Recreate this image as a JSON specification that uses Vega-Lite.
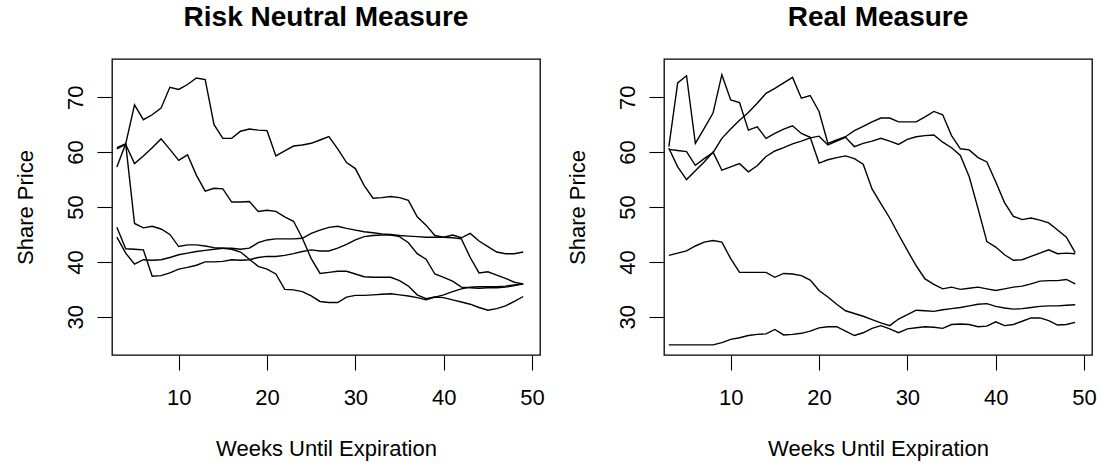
{
  "$schema": "https://vega.github.io/schema/vega-lite/v6.json",
  "autosize": "none",
  "padding": {"left": 112, "top": 59, "right": 989, "bottom": 408},
  "background": "white",
  "bounds": "flush",
  "spacing": 124,
  "config": {
    "font": "Liberation Sans",
    "view": {"stroke": "black", "strokeWidth": 1.3},
    "axis": {
      "domain": false, "grid": false, "ticks": true,
      "tickColor": "black", "tickSize": 15, "tickWidth": 1.1,
      "labelFont": "Liberation Sans", "labelFontSize": 22, "labelColor": "black",
      "labelFlush": false, "labelOverlap": false,
      "titleFont": "Liberation Sans", "titleFontSize": 22, "titleFontWeight": "normal", "titleColor": "black"
    },
    "axisX": {"labelPadding": 17, "titlePadding": 47, "titleBaseline": "alphabetic"},
    "axisY": {"labelAngle": 270, "labelAlign": "center", "labelBaseline": "alphabetic", "labelPadding": 15, "titlePadding": 32, "titleBaseline": "alphabetic"},
    "title": {"font": "Liberation Sans", "fontSize": 28, "fontWeight": "bold", "color": "black", "baseline": "alphabetic", "offset": 27, "anchor": "middle"}
  },
  "datasets": {
    "risk": [
      {"run":"A","week":3,"price":57.3},{"run":"A","week":4,"price":61.5},{"run":"A","week":5,"price":68.6},{"run":"A","week":6,"price":65.9},{"run":"A","week":7,"price":66.8},{"run":"A","week":8,"price":68.0},{"run":"A","week":9,"price":71.8},{"run":"A","week":10,"price":71.4},{"run":"A","week":11,"price":72.3},{"run":"A","week":12,"price":73.5},{"run":"A","week":13,"price":73.2},{"run":"A","week":14,"price":65.0},{"run":"A","week":15,"price":62.5},{"run":"A","week":16,"price":62.5},{"run":"A","week":17,"price":63.8},{"run":"A","week":18,"price":64.2},{"run":"A","week":19,"price":64.0},{"run":"A","week":20,"price":63.9},{"run":"A","week":21,"price":59.3},{"run":"A","week":22,"price":60.2},{"run":"A","week":23,"price":61.1},{"run":"A","week":24,"price":61.3},{"run":"A","week":25,"price":61.6},{"run":"A","week":26,"price":62.2},{"run":"A","week":27,"price":62.8},{"run":"A","week":28,"price":60.6},{"run":"A","week":29,"price":58.1},{"run":"A","week":30,"price":57.0},{"run":"A","week":31,"price":53.9},{"run":"A","week":32,"price":51.6},{"run":"A","week":33,"price":51.7},{"run":"A","week":34,"price":51.9},{"run":"A","week":35,"price":51.7},{"run":"A","week":36,"price":51.2},{"run":"A","week":37,"price":48.2},{"run":"A","week":38,"price":46.7},{"run":"A","week":39,"price":44.8},{"run":"A","week":40,"price":44.5},{"run":"A","week":41,"price":44.9},{"run":"A","week":42,"price":44.4},{"run":"A","week":43,"price":45.2},{"run":"A","week":44,"price":43.8},{"run":"A","week":45,"price":42.8},{"run":"A","week":46,"price":41.8},{"run":"A","week":47,"price":41.5},{"run":"A","week":48,"price":41.5},{"run":"A","week":49,"price":41.8},
      {"run":"B","week":3,"price":60.6},{"run":"B","week":4,"price":61.4},{"run":"B","week":5,"price":57.9},{"run":"B","week":6,"price":59.3},{"run":"B","week":7,"price":60.8},{"run":"B","week":8,"price":62.4},{"run":"B","week":9,"price":60.5},{"run":"B","week":10,"price":58.5},{"run":"B","week":11,"price":59.5},{"run":"B","week":12,"price":55.8},{"run":"B","week":13,"price":52.9},{"run":"B","week":14,"price":53.4},{"run":"B","week":15,"price":53.3},{"run":"B","week":16,"price":50.9},{"run":"B","week":17,"price":50.9},{"run":"B","week":18,"price":51.0},{"run":"B","week":19,"price":49.2},{"run":"B","week":20,"price":49.4},{"run":"B","week":21,"price":49.2},{"run":"B","week":22,"price":48.2},{"run":"B","week":23,"price":47.4},{"run":"B","week":24,"price":44.3},{"run":"B","week":25,"price":40.6},{"run":"B","week":26,"price":37.9},{"run":"B","week":27,"price":38.1},{"run":"B","week":28,"price":38.3},{"run":"B","week":29,"price":38.3},{"run":"B","week":30,"price":37.8},{"run":"B","week":31,"price":37.3},{"run":"B","week":32,"price":37.2},{"run":"B","week":33,"price":37.2},{"run":"B","week":34,"price":37.2},{"run":"B","week":35,"price":36.6},{"run":"B","week":36,"price":35.6},{"run":"B","week":37,"price":34.0},{"run":"B","week":38,"price":33.3},{"run":"B","week":39,"price":33.6},{"run":"B","week":40,"price":34.0},{"run":"B","week":41,"price":34.6},{"run":"B","week":42,"price":35.1},{"run":"B","week":43,"price":35.4},{"run":"B","week":44,"price":35.5},{"run":"B","week":45,"price":35.5},{"run":"B","week":46,"price":35.5},{"run":"B","week":47,"price":35.6},{"run":"B","week":48,"price":35.8},{"run":"B","week":49,"price":36.0},
      {"run":"C","week":3,"price":60.8},{"run":"C","week":4,"price":61.5},{"run":"C","week":5,"price":47.0},{"run":"C","week":6,"price":46.2},{"run":"C","week":7,"price":46.5},{"run":"C","week":8,"price":46.0},{"run":"C","week":9,"price":45.0},{"run":"C","week":10,"price":42.8},{"run":"C","week":11,"price":43.1},{"run":"C","week":12,"price":43.1},{"run":"C","week":13,"price":42.9},{"run":"C","week":14,"price":42.6},{"run":"C","week":15,"price":42.5},{"run":"C","week":16,"price":42.3},{"run":"C","week":17,"price":41.8},{"run":"C","week":18,"price":40.5},{"run":"C","week":19,"price":39.2},{"run":"C","week":20,"price":38.7},{"run":"C","week":21,"price":37.8},{"run":"C","week":22,"price":35.0},{"run":"C","week":23,"price":34.9},{"run":"C","week":24,"price":34.6},{"run":"C","week":25,"price":33.8},{"run":"C","week":26,"price":32.8},{"run":"C","week":27,"price":32.6},{"run":"C","week":28,"price":32.6},{"run":"C","week":29,"price":33.6},{"run":"C","week":30,"price":33.9},{"run":"C","week":31,"price":33.9},{"run":"C","week":32,"price":34.0},{"run":"C","week":33,"price":34.1},{"run":"C","week":34,"price":34.2},{"run":"C","week":35,"price":34.0},{"run":"C","week":36,"price":33.8},{"run":"C","week":37,"price":33.5},{"run":"C","week":38,"price":33.1},{"run":"C","week":39,"price":33.6},{"run":"C","week":40,"price":33.5},{"run":"C","week":41,"price":33.1},{"run":"C","week":42,"price":32.7},{"run":"C","week":43,"price":32.3},{"run":"C","week":44,"price":31.7},{"run":"C","week":45,"price":31.2},{"run":"C","week":46,"price":31.5},{"run":"C","week":47,"price":32.0},{"run":"C","week":48,"price":32.8},{"run":"C","week":49,"price":33.7},
      {"run":"D","week":3,"price":44.5},{"run":"D","week":4,"price":41.6},{"run":"D","week":5,"price":39.6},{"run":"D","week":6,"price":40.4},{"run":"D","week":7,"price":40.3},{"run":"D","week":8,"price":40.4},{"run":"D","week":9,"price":40.8},{"run":"D","week":10,"price":41.3},{"run":"D","week":11,"price":41.6},{"run":"D","week":12,"price":41.9},{"run":"D","week":13,"price":42.1},{"run":"D","week":14,"price":42.3},{"run":"D","week":15,"price":42.5},{"run":"D","week":16,"price":42.5},{"run":"D","week":17,"price":42.3},{"run":"D","week":18,"price":42.5},{"run":"D","week":19,"price":43.5},{"run":"D","week":20,"price":44.0},{"run":"D","week":21,"price":44.2},{"run":"D","week":22,"price":44.2},{"run":"D","week":23,"price":44.2},{"run":"D","week":24,"price":44.3},{"run":"D","week":25,"price":45.2},{"run":"D","week":26,"price":45.8},{"run":"D","week":27,"price":46.3},{"run":"D","week":28,"price":46.5},{"run":"D","week":29,"price":46.1},{"run":"D","week":30,"price":45.8},{"run":"D","week":31,"price":45.5},{"run":"D","week":32,"price":45.3},{"run":"D","week":33,"price":45.1},{"run":"D","week":34,"price":45.0},{"run":"D","week":35,"price":44.8},{"run":"D","week":36,"price":44.7},{"run":"D","week":37,"price":44.6},{"run":"D","week":38,"price":44.5},{"run":"D","week":39,"price":44.5},{"run":"D","week":40,"price":44.5},{"run":"D","week":41,"price":44.4},{"run":"D","week":42,"price":44.2},{"run":"D","week":43,"price":40.8},{"run":"D","week":44,"price":38.0},{"run":"D","week":45,"price":38.2},{"run":"D","week":46,"price":37.6},{"run":"D","week":47,"price":37.0},{"run":"D","week":48,"price":36.3},{"run":"D","week":49,"price":36.0},
      {"run":"E","week":3,"price":46.3},{"run":"E","week":4,"price":42.4},{"run":"E","week":5,"price":42.3},{"run":"E","week":6,"price":42.2},{"run":"E","week":7,"price":37.4},{"run":"E","week":8,"price":37.5},{"run":"E","week":9,"price":38.0},{"run":"E","week":10,"price":38.7},{"run":"E","week":11,"price":39.0},{"run":"E","week":12,"price":39.4},{"run":"E","week":13,"price":40.0},{"run":"E","week":14,"price":40.0},{"run":"E","week":15,"price":40.1},{"run":"E","week":16,"price":40.4},{"run":"E","week":17,"price":40.3},{"run":"E","week":18,"price":40.4},{"run":"E","week":19,"price":40.8},{"run":"E","week":20,"price":41.0},{"run":"E","week":21,"price":41.0},{"run":"E","week":22,"price":41.2},{"run":"E","week":23,"price":41.5},{"run":"E","week":24,"price":41.9},{"run":"E","week":25,"price":42.2},{"run":"E","week":26,"price":42.0},{"run":"E","week":27,"price":42.0},{"run":"E","week":28,"price":42.5},{"run":"E","week":29,"price":43.2},{"run":"E","week":30,"price":44.0},{"run":"E","week":31,"price":44.6},{"run":"E","week":32,"price":44.8},{"run":"E","week":33,"price":44.9},{"run":"E","week":34,"price":44.9},{"run":"E","week":35,"price":44.6},{"run":"E","week":36,"price":43.5},{"run":"E","week":37,"price":41.5},{"run":"E","week":38,"price":40.5},{"run":"E","week":39,"price":37.8},{"run":"E","week":40,"price":37.2},{"run":"E","week":41,"price":36.5},{"run":"E","week":42,"price":35.4},{"run":"E","week":43,"price":35.3},{"run":"E","week":44,"price":35.2},{"run":"E","week":45,"price":35.3},{"run":"E","week":46,"price":35.3},{"run":"E","week":47,"price":35.4},{"run":"E","week":48,"price":35.7},{"run":"E","week":49,"price":36.0}
    ],
    "real": [
      {"run":"A","week":3,"price":61.0},{"run":"A","week":4,"price":72.6},{"run":"A","week":5,"price":73.9},{"run":"A","week":6,"price":61.6},{"run":"A","week":7,"price":64.3},{"run":"A","week":8,"price":67.1},{"run":"A","week":9,"price":74.1},{"run":"A","week":10,"price":69.5},{"run":"A","week":11,"price":69.0},{"run":"A","week":12,"price":64.0},{"run":"A","week":13,"price":64.6},{"run":"A","week":14,"price":62.5},{"run":"A","week":15,"price":63.4},{"run":"A","week":16,"price":64.2},{"run":"A","week":17,"price":64.8},{"run":"A","week":18,"price":63.4},{"run":"A","week":19,"price":62.7},{"run":"A","week":20,"price":58.0},{"run":"A","week":21,"price":58.6},{"run":"A","week":22,"price":59.0},{"run":"A","week":23,"price":59.3},{"run":"A","week":24,"price":58.8},{"run":"A","week":25,"price":57.8},{"run":"A","week":26,"price":53.3},{"run":"A","week":27,"price":50.6},{"run":"A","week":28,"price":48.0},{"run":"A","week":29,"price":45.0},{"run":"A","week":30,"price":42.1},{"run":"A","week":31,"price":39.3},{"run":"A","week":32,"price":36.9},{"run":"A","week":33,"price":35.9},{"run":"A","week":34,"price":35.1},{"run":"A","week":35,"price":35.4},{"run":"A","week":36,"price":35.0},{"run":"A","week":37,"price":35.2},{"run":"A","week":38,"price":35.4},{"run":"A","week":39,"price":35.1},{"run":"A","week":40,"price":34.8},{"run":"A","week":41,"price":35.1},{"run":"A","week":42,"price":35.4},{"run":"A","week":43,"price":35.6},{"run":"A","week":44,"price":36.0},{"run":"A","week":45,"price":36.5},{"run":"A","week":46,"price":36.6},{"run":"A","week":47,"price":36.6},{"run":"A","week":48,"price":36.8},{"run":"A","week":49,"price":36.0},
      {"run":"B","week":3,"price":60.7},{"run":"B","week":4,"price":57.3},{"run":"B","week":5,"price":55.0},{"run":"B","week":6,"price":56.6},{"run":"B","week":7,"price":58.2},{"run":"B","week":8,"price":60.0},{"run":"B","week":9,"price":56.7},{"run":"B","week":10,"price":57.3},{"run":"B","week":11,"price":57.9},{"run":"B","week":12,"price":56.4},{"run":"B","week":13,"price":57.5},{"run":"B","week":14,"price":59.2},{"run":"B","week":15,"price":60.2},{"run":"B","week":16,"price":60.8},{"run":"B","week":17,"price":61.5},{"run":"B","week":18,"price":62.0},{"run":"B","week":19,"price":62.6},{"run":"B","week":20,"price":62.9},{"run":"B","week":21,"price":61.3},{"run":"B","week":22,"price":62.0},{"run":"B","week":23,"price":62.7},{"run":"B","week":24,"price":61.0},{"run":"B","week":25,"price":61.6},{"run":"B","week":26,"price":62.0},{"run":"B","week":27,"price":62.5},{"run":"B","week":28,"price":62.0},{"run":"B","week":29,"price":61.4},{"run":"B","week":30,"price":62.3},{"run":"B","week":31,"price":62.8},{"run":"B","week":32,"price":63.0},{"run":"B","week":33,"price":63.1},{"run":"B","week":34,"price":61.8},{"run":"B","week":35,"price":60.8},{"run":"B","week":36,"price":59.4},{"run":"B","week":37,"price":55.5},{"run":"B","week":38,"price":49.7},{"run":"B","week":39,"price":43.7},{"run":"B","week":40,"price":42.7},{"run":"B","week":41,"price":41.3},{"run":"B","week":42,"price":40.3},{"run":"B","week":43,"price":40.4},{"run":"B","week":44,"price":41.0},{"run":"B","week":45,"price":41.6},{"run":"B","week":46,"price":42.2},{"run":"B","week":47,"price":41.5},{"run":"B","week":48,"price":41.6},{"run":"B","week":49,"price":41.5},
      {"run":"C","week":3,"price":60.5},{"run":"C","week":4,"price":60.3},{"run":"C","week":5,"price":60.1},{"run":"C","week":6,"price":57.6},{"run":"C","week":7,"price":58.8},{"run":"C","week":8,"price":59.9},{"run":"C","week":9,"price":62.5},{"run":"C","week":10,"price":64.2},{"run":"C","week":11,"price":65.8},{"run":"C","week":12,"price":67.2},{"run":"C","week":13,"price":68.9},{"run":"C","week":14,"price":70.7},{"run":"C","week":15,"price":71.6},{"run":"C","week":16,"price":72.6},{"run":"C","week":17,"price":73.6},{"run":"C","week":18,"price":69.8},{"run":"C","week":19,"price":70.3},{"run":"C","week":20,"price":67.4},{"run":"C","week":21,"price":61.6},{"run":"C","week":22,"price":62.2},{"run":"C","week":23,"price":62.8},{"run":"C","week":24,"price":63.9},{"run":"C","week":25,"price":64.7},{"run":"C","week":26,"price":65.5},{"run":"C","week":27,"price":66.2},{"run":"C","week":28,"price":66.2},{"run":"C","week":29,"price":65.5},{"run":"C","week":30,"price":65.5},{"run":"C","week":31,"price":65.5},{"run":"C","week":32,"price":66.4},{"run":"C","week":33,"price":67.4},{"run":"C","week":34,"price":66.8},{"run":"C","week":35,"price":63.0},{"run":"C","week":36,"price":60.6},{"run":"C","week":37,"price":60.4},{"run":"C","week":38,"price":59.0},{"run":"C","week":39,"price":58.2},{"run":"C","week":40,"price":54.6},{"run":"C","week":41,"price":50.8},{"run":"C","week":42,"price":48.3},{"run":"C","week":43,"price":47.7},{"run":"C","week":44,"price":48.0},{"run":"C","week":45,"price":47.6},{"run":"C","week":46,"price":47.1},{"run":"C","week":47,"price":45.8},{"run":"C","week":48,"price":44.5},{"run":"C","week":49,"price":41.7},
      {"run":"D","week":3,"price":41.2},{"run":"D","week":4,"price":41.6},{"run":"D","week":5,"price":42.0},{"run":"D","week":6,"price":42.9},{"run":"D","week":7,"price":43.6},{"run":"D","week":8,"price":43.9},{"run":"D","week":9,"price":43.6},{"run":"D","week":10,"price":40.6},{"run":"D","week":11,"price":38.1},{"run":"D","week":12,"price":38.1},{"run":"D","week":13,"price":38.1},{"run":"D","week":14,"price":38.1},{"run":"D","week":15,"price":37.2},{"run":"D","week":16,"price":37.9},{"run":"D","week":17,"price":37.8},{"run":"D","week":18,"price":37.5},{"run":"D","week":19,"price":36.7},{"run":"D","week":20,"price":34.8},{"run":"D","week":21,"price":33.6},{"run":"D","week":22,"price":32.3},{"run":"D","week":23,"price":31.1},{"run":"D","week":24,"price":30.6},{"run":"D","week":25,"price":30.1},{"run":"D","week":26,"price":29.5},{"run":"D","week":27,"price":28.9},{"run":"D","week":28,"price":28.4},{"run":"D","week":29,"price":29.6},{"run":"D","week":30,"price":30.4},{"run":"D","week":31,"price":31.2},{"run":"D","week":32,"price":31.1},{"run":"D","week":33,"price":31.0},{"run":"D","week":34,"price":31.3},{"run":"D","week":35,"price":31.5},{"run":"D","week":36,"price":31.7},{"run":"D","week":37,"price":32.0},{"run":"D","week":38,"price":32.3},{"run":"D","week":39,"price":32.4},{"run":"D","week":40,"price":31.9},{"run":"D","week":41,"price":31.6},{"run":"D","week":42,"price":31.4},{"run":"D","week":43,"price":31.5},{"run":"D","week":44,"price":31.7},{"run":"D","week":45,"price":31.9},{"run":"D","week":46,"price":32.0},{"run":"D","week":47,"price":32.0},{"run":"D","week":48,"price":32.1},{"run":"D","week":49,"price":32.2},
      {"run":"E","week":3,"price":24.9},{"run":"E","week":4,"price":24.9},{"run":"E","week":5,"price":24.9},{"run":"E","week":6,"price":24.9},{"run":"E","week":7,"price":24.9},{"run":"E","week":8,"price":24.9},{"run":"E","week":9,"price":25.3},{"run":"E","week":10,"price":25.9},{"run":"E","week":11,"price":26.2},{"run":"E","week":12,"price":26.6},{"run":"E","week":13,"price":26.8},{"run":"E","week":14,"price":26.9},{"run":"E","week":15,"price":27.7},{"run":"E","week":16,"price":26.7},{"run":"E","week":17,"price":26.8},{"run":"E","week":18,"price":27.0},{"run":"E","week":19,"price":27.4},{"run":"E","week":20,"price":28.0},{"run":"E","week":21,"price":28.2},{"run":"E","week":22,"price":28.2},{"run":"E","week":23,"price":27.4},{"run":"E","week":24,"price":26.6},{"run":"E","week":25,"price":27.1},{"run":"E","week":26,"price":27.9},{"run":"E","week":27,"price":28.4},{"run":"E","week":28,"price":27.8},{"run":"E","week":29,"price":27.1},{"run":"E","week":30,"price":27.8},{"run":"E","week":31,"price":28.0},{"run":"E","week":32,"price":28.2},{"run":"E","week":33,"price":28.1},{"run":"E","week":34,"price":27.9},{"run":"E","week":35,"price":28.6},{"run":"E","week":36,"price":28.7},{"run":"E","week":37,"price":28.6},{"run":"E","week":38,"price":28.2},{"run":"E","week":39,"price":28.3},{"run":"E","week":40,"price":29.1},{"run":"E","week":41,"price":28.4},{"run":"E","week":42,"price":28.6},{"run":"E","week":43,"price":29.2},{"run":"E","week":44,"price":29.8},{"run":"E","week":45,"price":29.8},{"run":"E","week":46,"price":29.3},{"run":"E","week":47,"price":28.5},{"run":"E","week":48,"price":28.6},{"run":"E","week":49,"price":29.0}
    ]
  },
  "hconcat": [
    {
      "width": 428,
      "height": 296,
      "title": "Risk Neutral Measure",
      "data": {"name": "risk"},
      "mark": {"type": "line", "color": "black", "strokeWidth": 1.4},
      "encoding": {
        "x": {"field": "week", "type": "quantitative", "scale": {"domain": [2.45, 50.9], "nice": false, "zero": false}, "axis": {"values": [10, 20, 30, 40, 50], "title": "Weeks Until Expiration"}},
        "y": {"field": "price", "type": "quantitative", "scale": {"domain": [23.05, 76.95], "nice": false, "zero": false}, "axis": {"values": [30, 40, 50, 60, 70], "title": "Share Price"}},
        "detail": {"field": "run", "type": "nominal"}
      }
    },
    {
      "width": 428,
      "height": 296,
      "title": "Real Measure",
      "data": {"name": "real"},
      "mark": {"type": "line", "color": "black", "strokeWidth": 1.4},
      "encoding": {
        "x": {"field": "week", "type": "quantitative", "scale": {"domain": [2.45, 50.9], "nice": false, "zero": false}, "axis": {"values": [10, 20, 30, 40, 50], "title": "Weeks Until Expiration"}},
        "y": {"field": "price", "type": "quantitative", "scale": {"domain": [23.05, 76.95], "nice": false, "zero": false}, "axis": {"values": [30, 40, 50, 60, 70], "title": "Share Price"}},
        "detail": {"field": "run", "type": "nominal"}
      }
    }
  ]
}
